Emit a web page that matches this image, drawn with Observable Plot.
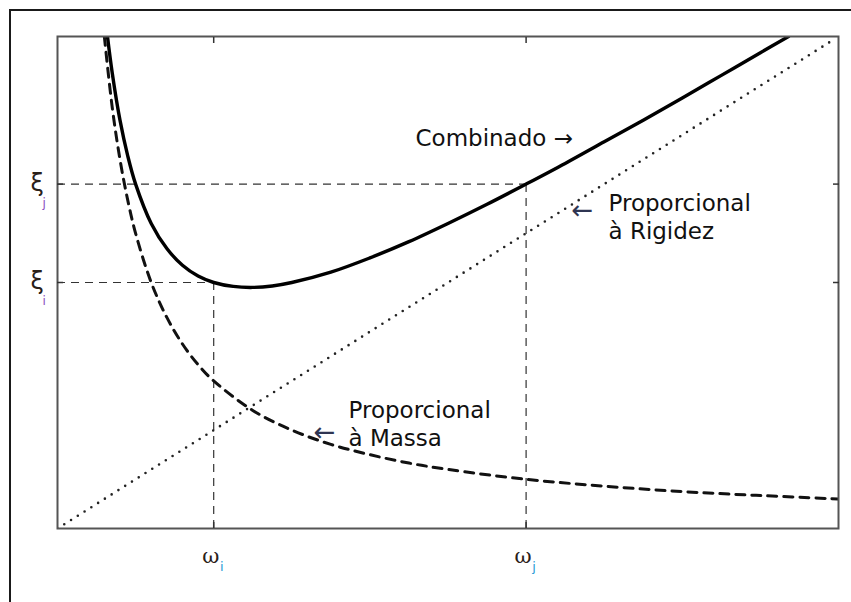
<!DOCTYPE html>
<html>
<head>
<meta charset="utf-8">
<script src="https://cdn.jsdelivr.net/npm/d3@7"></script>
<script src="https://cdn.jsdelivr.net/npm/@observablehq/plot@0.6"></script>
<style>
  html, body { margin: 0; padding: 0; background: #fff; }
  #wrap { position: relative; width: 851px; height: 602px; overflow: hidden; }
  #border { position: absolute; left: 9px; top: 9px; width: 900px; height: 700px;
            border-left: 2px solid #1a1a1a; border-top: 2px solid #1a1a1a; pointer-events: none; }
  svg { display: block; }
</style>
</head>
<body>
<div id="wrap"><div id="border"></div></div>
<script>
// Mass-proportional damping (dashed)
const omegaMass = [0.6, 0.7, 0.8, 0.9, 1.0, 1.2, 1.4, 1.6, 1.8, 2.0, 2.5, 3.0, 3.5, 4.0, 4.5, 5.0, 6.0, 7.0, 8.0, 9.0, 10.0];
const xiMass    = [10.0, 8.57, 7.5, 6.67, 6.0, 5.0, 4.29, 3.75, 3.33, 3.0, 2.4, 2.0, 1.71, 1.5, 1.33, 1.2, 1.0, 0.86, 0.75, 0.67, 0.6];
// Combined (solid)
const omegaComb = [0.64, 0.7, 0.8, 0.9, 1.0, 1.2, 1.4, 1.6, 1.8, 2.0, 2.25, 2.5, 2.75, 3.0, 3.5, 4.0, 4.5, 5.0, 5.5, 6.0, 6.5, 7.0, 7.5, 8.0, 8.5, 9.0, 9.36];
const xiComb    = [10.0, 9.27, 8.3, 7.57, 7.0, 6.2, 5.69, 5.35, 5.13, 5.0, 4.92, 4.9, 4.93, 5.0, 5.21, 5.5, 5.83, 6.2, 6.59, 7.0, 7.42, 7.86, 8.3, 8.75, 9.21, 9.67, 10.0];
// Stiffness-proportional damping (dotted)
const omegaStiff = [0.0, 9.9];
const xiStiff    = [0.0, 9.9];
// Reference frequencies and damping ratios
const refOmega = [2, 6];
const refXi    = [5, 7];
const omegaSub = ["i", "j"];
const xiSub    = ["i", "j"];
// Annotations
const annotations = [
  {x: 4.584, y: 8.195, text: "Combinado →"},
  {x: 7.055, y: 6.874, text: "Proporcional\nà Rigidez"},
  {x: 3.726, y: 2.667, text: "Proporcional\nà Massa"}
];
const arrows = [
  {x: 6.58, y: 6.46},
  {x: 3.28, y: 1.95}
];

const mass = omegaMass.map((w, i) => ({w, xi: xiMass[i]}));
const comb = omegaComb.map((w, i) => ({w, xi: xiComb[i]}));
const stiff = omegaStiff.map((w, i) => ({w, xi: xiStiff[i]}));
const refs = refOmega.map((w, i) => ({w, xi: refXi[i], ws: omegaSub[i], xs: xiSub[i]}));

const font = "DejaVu Sans, Verdana, sans-serif";

const chart = Plot.plot({
  width: 851,
  height: 602,
  marginLeft: 57,
  marginRight: 13,
  marginTop: 36,
  marginBottom: 74,
  style: {fontFamily: font, background: "white"},
  x: {domain: [0, 10], axis: null},
  y: {domain: [0, 10], axis: null},
  marks: [
    // reference dashed lines
    Plot.ruleY(refs, {y: "xi", x1: 0, x2: "w", stroke: "#333", strokeWidth: 1.2, strokeDasharray: "8,6"}),
    Plot.ruleX(refs, {x: "w", y1: 0, y2: "xi", stroke: "#333", strokeWidth: 1.2, strokeDasharray: "8,6"}),
    // curves
    Plot.line(stiff, {x: "w", y: "xi", stroke: "#222", strokeWidth: 2.6, strokeDasharray: "0,8", strokeLinecap: "round", clip: true}),
    Plot.line(mass, {x: "w", y: "xi", curve: "catmull-rom", stroke: "#111", strokeWidth: 3, strokeDasharray: "9,7", clip: true}),
    Plot.line(comb, {x: "w", y: "xi", curve: "catmull-rom", stroke: "#000", strokeWidth: 3.4, clip: true}),
    // frame and inward ticks
    Plot.frame({stroke: "#555", strokeWidth: 2}),
    Plot.axisX(refOmega, {anchor: "bottom", tickSize: -6, tickFormat: () => "", stroke: "#333", strokeWidth: 1.5}),
    Plot.axisX(refOmega, {anchor: "top", tickSize: -6, tickFormat: () => "", stroke: "#333", strokeWidth: 1.5}),
    Plot.axisY(refXi, {anchor: "left", tickSize: -6, tickFormat: () => "", stroke: "#333", strokeWidth: 1.5}),
    Plot.axisY(refXi, {anchor: "right", tickSize: -6, tickFormat: () => "", stroke: "#333", strokeWidth: 1.5}),
    // tick labels: omega
    Plot.text(refs, {x: "w", frameAnchor: "bottom", text: () => "ω", dy: 34, dx: -3, fontSize: 21, fill: "#2a2018", fontFamily: "DejaVu Serif, serif"}),
    Plot.text(refs, {x: "w", frameAnchor: "bottom", text: "ws", dy: 42, dx: 8, fontSize: 13, fill: "#2a9bd6", fontFamily: "DejaVu Sans, sans-serif"}),
    // tick labels: xi
    Plot.text(refs, {y: "xi", frameAnchor: "left", text: () => "ξ", dx: -27, dy: -1, fontSize: 24, fill: "#2a2018", fontFamily: "DejaVu Sans, sans-serif"}),
    Plot.text(refs, {y: "xi", frameAnchor: "left", text: "xs", dx: -15, dy: 19, fontSize: 12, fill: "#8a4cc0", fontFamily: "DejaVu Sans, sans-serif"}),
    // annotations
    Plot.text(annotations, {x: "x", y: "y", text: "text", textAnchor: "start", lineAnchor: "top", lineHeight: 1.24, fontSize: 23, fill: "#111"}),
    Plot.text(arrows, {x: "x", y: "y", text: () => "←", textAnchor: "start", fontSize: 26, fill: "#2f3552"})
  ]
});

document.getElementById("wrap").insertBefore(chart, document.getElementById("border"));
</script>
</body>
</html>
